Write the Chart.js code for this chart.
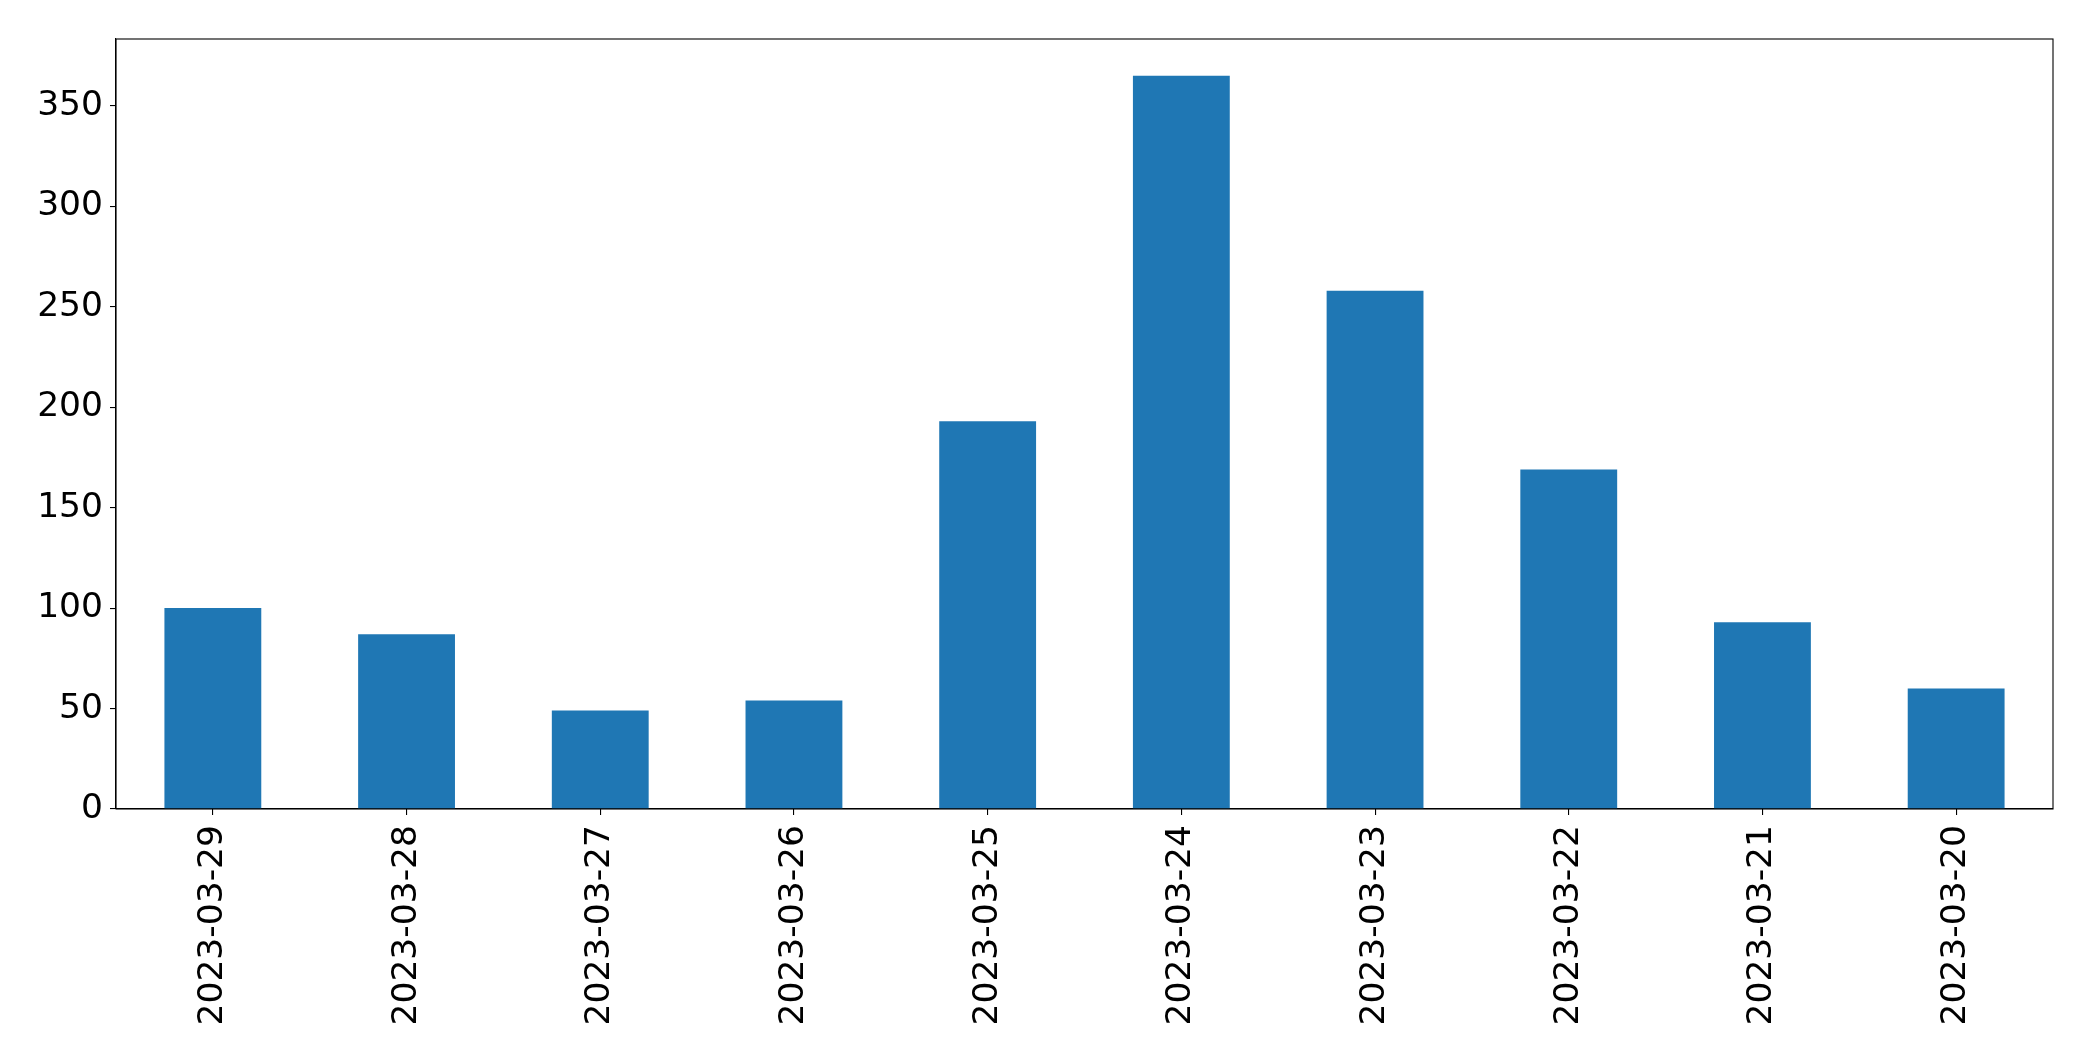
<!DOCTYPE html>
<html>
<head>
<meta charset="utf-8">
<script src="https://cdn.jsdelivr.net/npm/chart.js@4.4.0/dist/chart.umd.min.js"></script>
<style>
  html, body { margin: 0; padding: 0; background: #ffffff; }
  #wrap { width: 2093px; height: 1061px; }
</style>
</head>
<body>
<div id="wrap"><canvas id="c" width="2093" height="1061"></canvas></div>
<script>
const categories = ["2023-03-29", "2023-03-28", "2023-03-27", "2023-03-26", "2023-03-25",
                    "2023-03-24", "2023-03-23", "2023-03-22", "2023-03-21", "2023-03-20"];
const counts = [100, 87, 49, 54, 193, 365, 258, 169, 93, 60];
const yTickValues = [0, 50, 100, 150, 200, 250, 300, 350];
const yMax = Math.max(...counts) * 1.05;

const frame = {
  id: 'frame',
  afterDatasetsDraw(chart) {
    const a = chart.chartArea, ctx = chart.ctx;
    ctx.save();
    ctx.strokeStyle = '#000000';
    ctx.lineWidth = 1.1;
    ctx.strokeRect(a.left, a.top, a.right - a.left, a.bottom - a.top);
    ctx.restore();
  }
};

const font = { family: 'DejaVu Sans', size: 34.5 };

new Chart(document.getElementById('c'), {
  type: 'bar',
  data: {
    labels: categories,
    datasets: [{
      data: counts,
      backgroundColor: '#1f77b4',
      borderWidth: 0,
      barPercentage: 0.5,
      categoryPercentage: 1.0
    }]
  },
  options: {
    responsive: false,
    animation: false,
    events: [],
    layout: { padding: { left: 0, top: 39, right: 40, bottom: 0 } },
    plugins: { legend: { display: false }, tooltip: { enabled: false } },
    scales: {
      x: {
        offset: true,
        grid: { display: true, offset: false, drawOnChartArea: false, drawTicks: true, tickLength: 6, color: '#000000', lineWidth: 1.1 },
        border: { display: true, color: '#000000', width: 1.1 },
        ticks: { autoSkip: false, maxRotation: 90, minRotation: 90, color: '#000000', font: font, padding: 10 },
        afterFit(scale) { scale.height = 252; }
      },
      y: {
        min: 0,
        max: yMax,
        grid: { display: true, drawOnChartArea: false, drawTicks: true, tickLength: 6, color: '#000000', lineWidth: 1.1 },
        border: { display: true, color: '#000000', width: 1.1 },
        ticks: { color: '#000000', font: font, padding: 7, includeBounds: false },
        afterBuildTicks(scale) { scale.ticks = yTickValues.map(v => ({ value: v })); },
        afterFit(scale) { scale.width = 116; }
      }
    }
  },
  plugins: [frame]
});
</script>
</body>
</html>
